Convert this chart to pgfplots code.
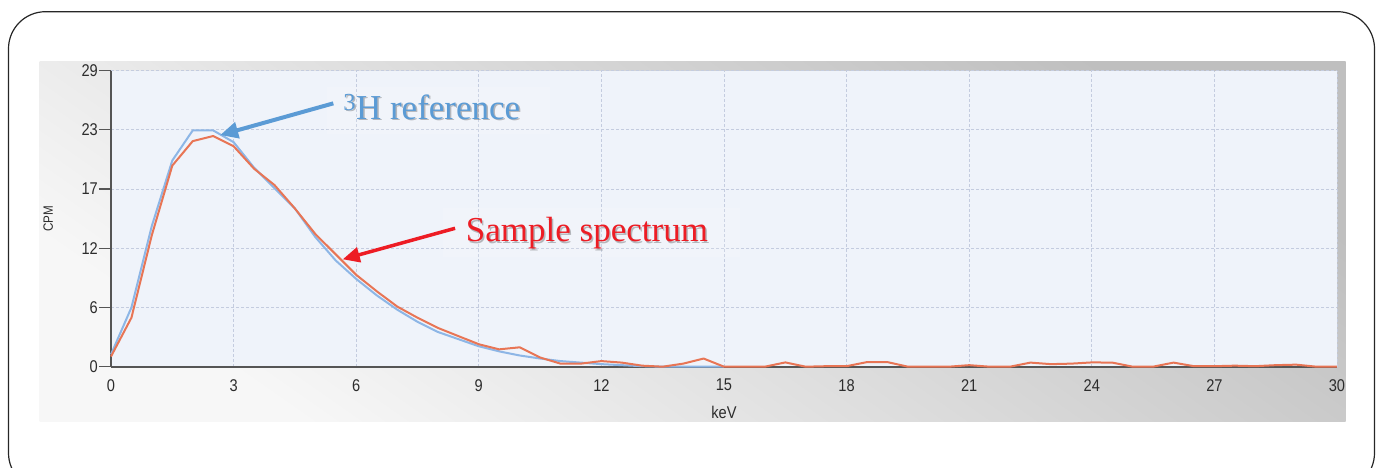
\documentclass[border=0pt]{standalone}
\usepackage{pgfplots}
\pgfplotsset{compat=1.18}
\usepackage{pgfplotstable}
\usepackage{fontspec}
\setmainfont{Liberation Serif}
\newfontfamily\tickfont[FakeStretch=0.86]{Liberation Sans}
\usetikzlibrary{arrows.meta}

\definecolor{refblue}{HTML}{8DB6E6}
\definecolor{samplered}{HTML}{E87555}
\definecolor{noteblue}{HTML}{5B9BD5}
\definecolor{notered}{HTML}{ED1C24}
\definecolor{plotbg}{HTML}{EFF3FA}
\definecolor{gridc}{HTML}{C4CCDF}
\definecolor{axisc}{HTML}{555555}
\definecolor{labelc}{HTML}{2C2C2C}

% tritium reference spectrum (CPM per 0.5 keV channel)
\pgfplotstableread{
keV cpm
0 1.2
0.5 5.8
1.0 13.8
1.5 20.2
2.0 23.15
2.5 23.15
3.0 22.0
3.5 19.5
4.0 17.5
4.5 15.5
5.0 12.7
5.5 10.4
6.0 8.6
6.5 7.0
7.0 5.6
7.5 4.4
8.0 3.4
8.5 2.7
9.0 2.0
9.5 1.5
10.0 1.1
10.5 0.8
11.0 0.55
11.5 0.4
12.0 0.25
12.5 0.15
13.0 0.05
13.5 0
14.0 0
14.5 0
15.0 0
}\reftable

% measured sample spectrum
\pgfplotstableread{
keV cpm
0 1.0
0.5 4.8
1.0 12.9
1.5 19.7
2.0 22.1
2.5 22.6
3.0 21.6
3.5 19.4
4.0 17.8
4.5 15.5
5.0 13.0
5.5 11.0
6.0 9.0
6.5 7.4
7.0 5.9
7.5 4.8
8.0 3.8
8.5 3.0
9.0 2.2
9.5 1.7
10.0 1.9
10.5 0.9
11.0 0.3
11.5 0.3
12.0 0.55
12.5 0.4
13.0 0.1
13.5 0
14.0 0.3
14.5 0.8
15.0 0
15.5 0
16.0 0
16.5 0.42
17.0 0
17.5 0.05
18.0 0.05
18.5 0.45
19.0 0.45
19.5 0
20.0 0
20.5 0
21.0 0.15
21.5 0
22.0 0
22.5 0.4
23.0 0.25
23.5 0.3
24.0 0.42
24.5 0.4
25.0 0
25.5 0
26.0 0.4
26.5 0.05
27.0 0.05
27.5 0.1
28.0 0.05
28.5 0.15
29.0 0.2
29.5 0
30.0 0
}\sampletable

\begin{document}
\begin{tikzpicture}
\useasboundingbox (0pt,0pt) rectangle (1381pt,468pt);
% slide frame
\draw[line width=1.2pt, color=black!85, rounded corners=37pt]
  (8.5pt,-22pt) rectangle (1374.5pt,456.3pt);
% chart panel
\shade[top color=black!25, bottom color=black!3, shading angle=-35]
  (39.5pt,46pt) rectangle (1345.5pt,406.3pt);

\begin{axis}[
  at={(111pt,101.3pt)}, anchor=south west,
  scale only axis, width=1226pt, height=296pt,
  xmin=0, xmax=30, ymin=0, ymax=29,
  clip=false,
  axis background/.style={fill=plotbg},
  axis x line=bottom, axis y line=left,
  axis line style={-, draw=axisc, line width=1.8pt},
  xtick={0,3,...,30},
  ytick={0,5.8,11.6,17.4,23.2,29},
  yticklabels={0,6,12,17,23,29},
  xticklabels={0,3,6,9,12,15,18,21,24,27,30},
  tick align=outside,
  xtick style={draw=none},
  ytick style={draw=axisc, line width=1.2pt},
  major tick length=12pt,
  grid=major,
  major grid style={draw=gridc, line width=0.9pt, dash pattern=on 3pt off 2pt},
  tick label style={font=\tickfont\fontsize{17}{18}\selectfont, text=labelc},
  yticklabel style={inner sep=1pt},
  xticklabel style={yshift=3pt},
  every axis x label/.style={at={(axis description cs:0.5,0)}, anchor=center, yshift=-45.5pt,
    font=\tickfont\fontsize{17}{18}\selectfont, text=labelc},
  every axis y label/.style={at={(axis description cs:0,0.5)}, anchor=center, xshift=-62.7pt,
    rotate=90, font=\tickfont\fontsize{13.5}{15}\selectfont, text=labelc},
  xlabel={keV}, ylabel={CPM},
]
\addplot[color=refblue, line width=2pt, line join=round] table[x=keV, y=cpm] {\reftable};
\addplot[color=samplered, line width=2pt, line join=round] table[x=keV, y=cpm] {\sampletable};

% call-out boxes
\fill[white, opacity=0.15] (axis cs:5.28,22.82) rectangle (axis cs:10.74,27.38);
\fill[white, opacity=0.15] (axis cs:8.12,10.78) rectangle (axis cs:15.39,15.54);

% reference call-out
\node[anchor=base west, inner sep=0pt, text=black, opacity=0.25,
  font=\fontsize{35}{40}\selectfont] at ([xshift=1.5pt,yshift=-1.5pt]axis cs:5.68,24.26)
  {\textsuperscript{3}H reference};
\node[anchor=base west, inner sep=0pt, text=noteblue,
  font=\fontsize{35}{40}\selectfont] at (axis cs:5.68,24.26)
  {\textsuperscript{3}H reference};
\draw[noteblue, line width=4pt, -{Triangle[length=18pt,width=16pt]}]
  (axis cs:5.44,25.8) -- (axis cs:2.67,22.69);

% sample call-out
\node[anchor=base west, inner sep=0pt, text=black, opacity=0.25,
  font=\fontsize{35}{40}\selectfont] at ([xshift=1.5pt,yshift=-1.5pt]axis cs:8.68,12.24)
  {Sample spectrum};
\node[anchor=base west, inner sep=0pt, text=notered,
  font=\fontsize{35}{40}\selectfont] at (axis cs:8.68,12.24)
  {Sample spectrum};
\draw[notered, line width=3.5pt, -{Triangle[length=17pt,width=15pt]}]
  (axis cs:8.42,13.56) -- (axis cs:5.67,10.52);
\end{axis}
\end{tikzpicture}
\end{document}
